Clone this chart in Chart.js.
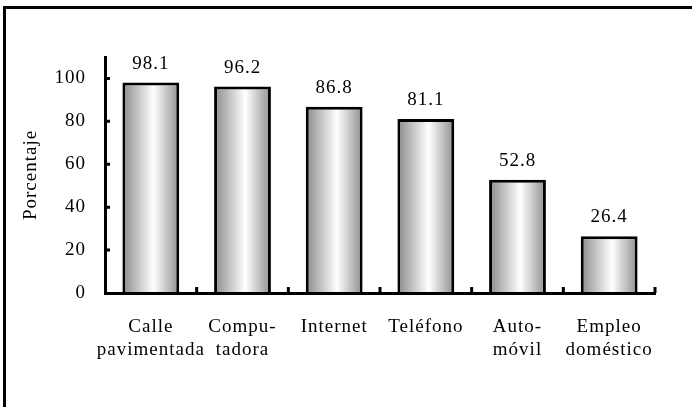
<!DOCTYPE html>
<html>
<head>
<meta charset="utf-8">
<script src="https://cdn.jsdelivr.net/npm/chart.js@4/dist/chart.umd.min.js"></script>
<style>
  html, body { margin: 0; padding: 0; background: #fff; }
  #wrap { width: 692px; height: 407px; position: relative; }
</style>
</head>
<body>
<div id="wrap"><canvas id="c" width="692" height="407"></canvas></div>
<script>
const categories = [["Calle", "pavimentada"], ["Compu-", "tadora"], ["Internet"], ["Teléfono"], ["Auto-", "móvil"], ["Empleo", "doméstico"]];
const values = [98.1, 96.2, 86.8, 81.1, 52.8, 26.4];
const yTicks = [0, 20, 40, 60, 80, 100];
const yAxisTitle = "Porcentaje";

const FONT = "Liberation Serif";
const FS = 19;
const LS = "1px";

function gradientFor(context) {
  const chart = context.chart;
  const xs = chart.scales && chart.scales.x;
  if (!xs || !chart.chartArea || context.dataIndex === undefined) return "#cccccc";
  const cx = xs.getPixelForValue(context.dataIndex);
  const w = (xs.width / categories.length) * 0.62;
  if (!isFinite(cx) || !isFinite(w) || w <= 0) return "#cccccc";
  const g = chart.ctx.createLinearGradient(cx - w / 2, 0, cx + w / 2, 0);
  g.addColorStop(0, "#8a8a8a");
  g.addColorStop(0.55, "#ffffff");
  g.addColorStop(1, "#8e8e8e");
  return g;
}

const decor = {
  id: "decor",
  beforeLayout(chart) { chart.ctx.letterSpacing = LS; },
  beforeDraw(chart) {
    const ctx = chart.ctx;
    ctx.letterSpacing = LS;
    ctx.save();
    ctx.fillStyle = "#fff";
    ctx.fillRect(0, 0, chart.width, chart.height);
    ctx.fillStyle = "#000";
    ctx.fillRect(3, 6, chart.width - 3, 3);
    ctx.fillRect(3, 6, 3, chart.height - 6);
    ctx.restore();
  },
  afterDraw(chart) {
    const ctx = chart.ctx;
    const xs = chart.scales.x, ys = chart.scales.y;
    const area = chart.chartArea;
    ctx.save();
    ctx.strokeStyle = "#000";
    ctx.lineWidth = 3;
    ctx.beginPath();
    yTicks.forEach(v => {
      if (v === 0) return;
      const y = ys.getPixelForValue(v);
      ctx.moveTo(area.left, y);
      ctx.lineTo(area.left + 5, y);
    });
    for (let i = 0; i < categories.length; i++) {
      const xb = i < categories.length - 1
        ? (xs.getPixelForValue(i) + xs.getPixelForValue(i + 1)) / 2
        : area.right;
      ctx.moveTo(xb, area.bottom);
      ctx.lineTo(xb, area.bottom - 6);
    }
    ctx.stroke();
    ctx.letterSpacing = LS;
    ctx.fillStyle = "#000";
    ctx.font = FS + "px '" + FONT + "'";
    ctx.textAlign = "center";
    ctx.textBaseline = "alphabetic";
    const meta = chart.getDatasetMeta(0);
    meta.data.forEach((bar, i) => {
      ctx.fillText(values[i].toFixed(1), bar.x, bar.y - 14);
    });
    ctx.restore();
  }
};

new Chart(document.getElementById("c"), {
  type: "bar",
  data: {
    labels: categories,
    datasets: [{
      data: values,
      backgroundColor: gradientFor,
      borderColor: "#000",
      borderWidth: 3,
      borderSkipped: "bottom",
      barPercentage: 0.62,
      categoryPercentage: 1.0
    }]
  },
  options: {
    responsive: false,
    animation: false,
    devicePixelRatio: 1,
    layout: { padding: { top: 57, right: 37, left: 0, bottom: 0 } },
    plugins: { legend: { display: false }, tooltip: { enabled: false } },
    scales: {
      x: {
        grid: { display: false, drawTicks: false },
        border: { display: true, color: "#000", width: 3, z: 1 },
        ticks: {
          color: "#000",
          font: { family: FONT, size: FS, lineHeight: 1.2 },
          padding: 23,
          autoSkip: false,
          maxRotation: 0,
          minRotation: 0
        },
        afterFit(scale) { scale.height = 114; }
      },
      y: {
        min: 0,
        max: 110,
        grid: { display: false, drawTicks: false },
        border: { display: true, color: "#000", width: 3, z: 1 },
        afterBuildTicks(scale) { scale.ticks = yTicks.map(v => ({ value: v })); },
        ticks: {
          color: "#000",
          font: { family: FONT, size: FS },
          padding: 19
        },
        title: {
          display: true,
          text: yAxisTitle,
          color: "#000",
          font: { family: FONT, size: FS },
          padding: { top: 20, bottom: 0 }
        },
        afterFit(scale) { scale.width = 105; }
      }
    }
  },
  plugins: [decor]
});
</script>
</body>
</html>
